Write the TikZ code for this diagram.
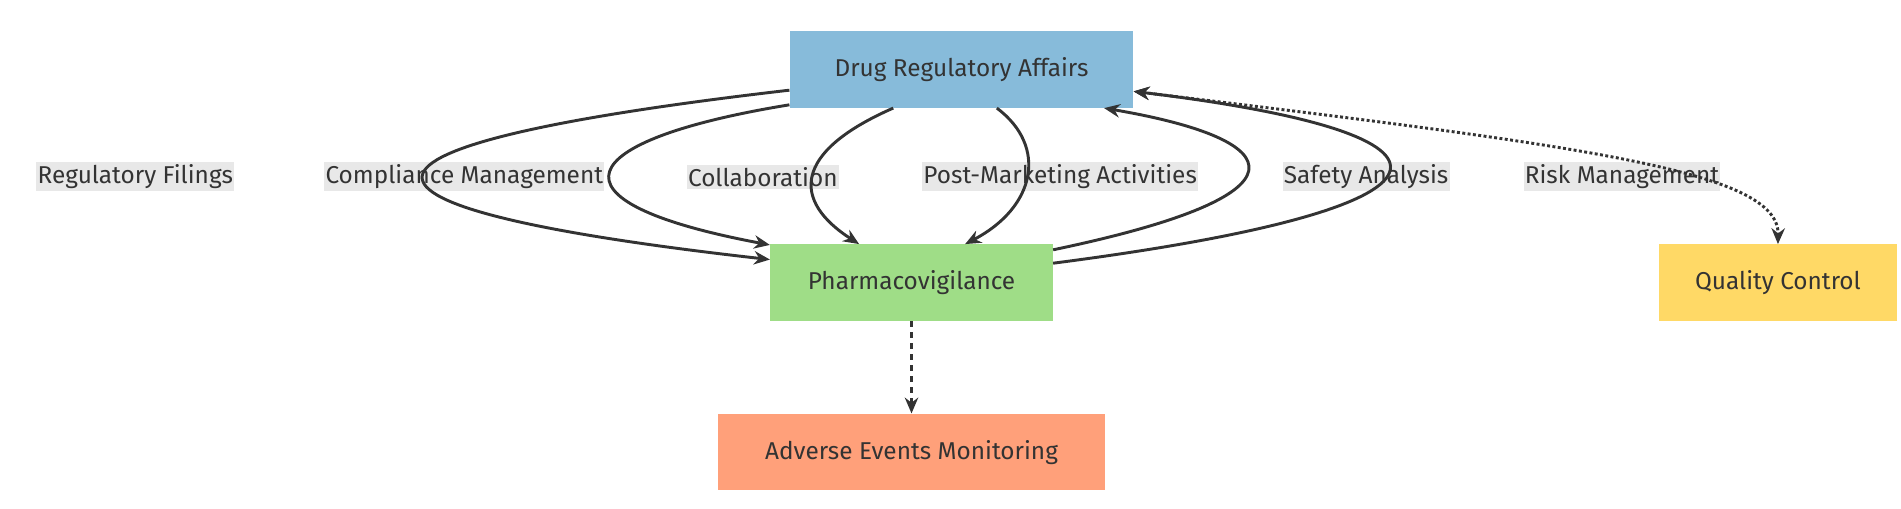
\documentclass[tikz,border=0pt]{standalone}
\usepackage{fontspec}
\setmainfont{Fira Sans}
\usetikzlibrary{arrows.meta}
\definecolor{ink}{HTML}{333333}
\definecolor{drablue}{HTML}{87BBDA}
\definecolor{pvgreen}{HTML}{9FDD87}
\definecolor{aeorange}{HTML}{FFA07A}
\definecolor{qcyellow}{HTML}{FFD966}
\definecolor{lblgray}{HTML}{E8E8E8}
\tikzset{
  box/.style={draw=none, minimum height=63pt, inner xsep=14pt, text=ink, font=\fontsize{20}{24}\selectfont},
  lbl/.style={fill=lblgray, text=ink, inner xsep=1pt, inner ysep=2pt, font=\fontsize{20}{24}\selectfont},
  link/.style={draw=ink, line width=2.4pt, -{Stealth[length=13pt,width=11pt]}},
}
\begin{document}
\begin{tikzpicture}[x=1pt,y=-1pt]
            \useasboundingbox (0,0) rectangle (1560,417);
            \node[box, fill=drablue, minimum width=282pt] (dra) at (789,57) {Drug Regulatory Affairs};
            \node[box, fill=pvgreen, minimum width=232pt] (pv) at (748,232) {Pharmacovigilance};
            \node[box, fill=aeorange, minimum width=318pt] (aem) at (748,371) {Adverse Events Monitoring};
            \node[box, fill=qcyellow, minimum width=196pt] (qc) at (1459,232) {Quality Control};

            \node[lbl] (filings) at (111,145) {Regulatory Filings};
            \node[lbl] (compliance) at (381,145) {Compliance Management};
            \node[lbl] (collab) at (626,145) {Collaboration};
            \node[lbl] (postmkt) at (870,145) {Post-Marketing Activities};
            \node[lbl] (safety) at (1121,145) {Safety Analysis};
            \node[lbl] (risk) at (1331,145) {Risk Management};

            \draw[link] (dra.west |- 0,74) .. controls (250,120) and (250,170) .. (pv.west |- 0,213);
            \draw[link] (dra.west |- 0,86) .. controls (470,115) and (440,165) .. (pv.west |- 0,201);
            \draw[link] (dra.south -| 733,0) .. controls (650,125) and (650,165) .. (pv.north -| 705,0);
            \draw[link] (dra.south -| 818,0) .. controls (860,120) and (850,170) .. (pv.north -| 792,0);
            \draw[link] (pv.east |- 0,205) .. controls (1080,160) and (1060,115) .. (dra.south -| 906,0);
            \draw[link] (pv.east |- 0,216) .. controls (1220,170) and (1220,110) .. (dra.east |- 0,75);
            \draw[link, dotted, {Stealth[length=13pt,width=11pt]}-{Stealth[length=13pt,width=11pt]}] (dra.east |- 0,75) .. controls (1300,120) and (1460,140) .. (qc.north);
            \draw[link, dash pattern=on 5pt off 4pt] (pv.south) -- (aem.north);
\end{tikzpicture}
\end{document}
